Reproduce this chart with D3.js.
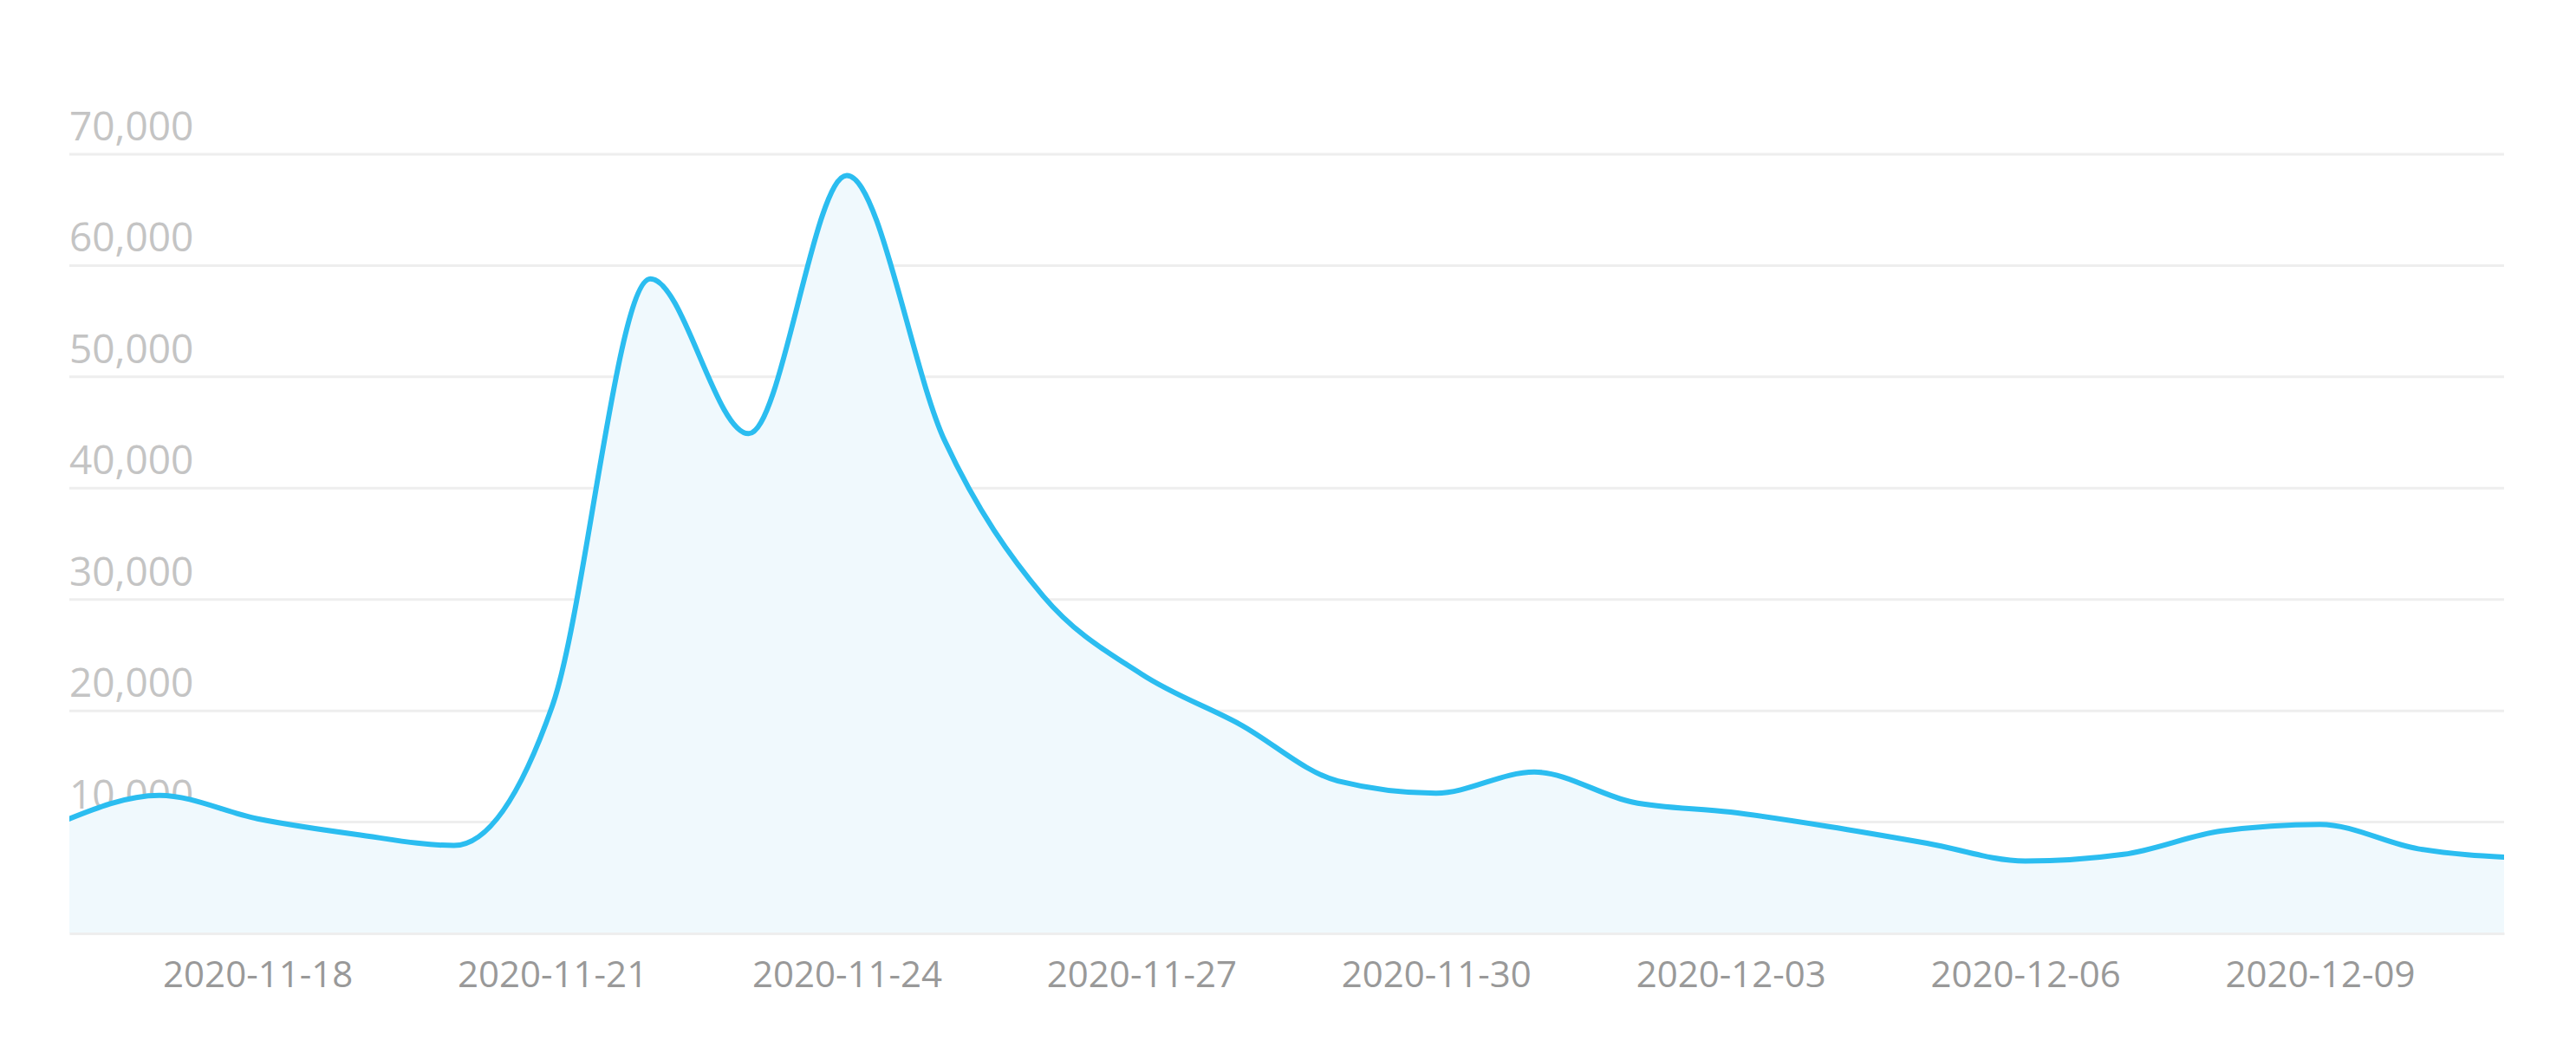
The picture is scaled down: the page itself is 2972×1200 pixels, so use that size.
<!DOCTYPE html>
<html>
<head>
<meta charset="utf-8">
<script src="https://cdn.jsdelivr.net/npm/d3@7"></script>
<style>
  body { margin: 0; background: #fff; }
  svg { display: block; }
</style>
</head>
<body>
<svg id="chart" width="2972" height="1200"></svg>
<script>
const dates = ["2020-11-16","2020-11-17","2020-11-18","2020-11-19","2020-11-20","2020-11-21",
  "2020-11-22","2020-11-23","2020-11-24","2020-11-25","2020-11-26","2020-11-27","2020-11-28",
  "2020-11-29","2020-11-30","2020-12-01","2020-12-02","2020-12-03","2020-12-04","2020-12-05",
  "2020-12-06","2020-12-07","2020-12-08","2020-12-09","2020-12-10","2020-12-11"];
const values = [10000, 12400, 10300, 8900, 7900, 20400, 58800, 44900, 68100, 44200, 30300,
  23300, 18800, 13700, 12600, 14500, 11800, 10900, 9600, 8100, 6500, 7100, 9200, 9800, 7600, 6800];
const yTicks = [10000, 20000, 30000, 40000, 50000, 60000, 70000];
const xTickLabels = ["2020-11-18","2020-11-21","2020-11-24","2020-11-27",
  "2020-11-30","2020-12-03","2020-12-06","2020-12-09"];

const parse = d3.timeParse("%Y-%m-%d");
const data = dates.map((d, i) => ({ date: parse(d), value: values[i] }));

const svg = d3.select("#chart");
const margin = { left: 80, right: 2889, top: 178, bottom: 1077 };

const x = d3.scaleTime()
  .domain([new Date(2020, 10, 16, 2), new Date(2020, 11, 10, 21)])
  .range([margin.left, margin.right]);
const y = d3.scaleLinear().domain([0, 70000]).range([margin.bottom, margin.top]);

svg.append("defs").append("clipPath").attr("id", "clip")
  .append("rect")
  .attr("x", margin.left).attr("y", 0)
  .attr("width", margin.right - margin.left).attr("height", margin.bottom);

// grid lines
svg.append("g")
  .selectAll("line")
  .data(yTicks)
  .join("line")
  .attr("x1", margin.left).attr("x2", margin.right)
  .attr("y1", y).attr("y2", y)
  .attr("stroke", "#eeeeee")
  .attr("stroke-width", 3);

// y labels
svg.append("g")
  .selectAll("text")
  .data(yTicks)
  .join("text")
  .attr("x", margin.left)
  .attr("y", (d) => y(d) - 16)
  .attr("fill", "#c4c4c4")
  .style("font-family", "'Open Sans', sans-serif")
  .style("font-size", "46px")
  .text(d3.format(","));

const area = d3.area()
  .x((d) => x(d.date))
  .y0(y(0))
  .y1((d) => y(d.value))
  .curve(d3.curveMonotoneX);

const line = d3.line()
  .x((d) => x(d.date))
  .y((d) => y(d.value))
  .curve(d3.curveMonotoneX);

const g = svg.append("g").attr("clip-path", "url(#clip)");
g.append("path").datum(data).attr("d", area).attr("fill", "#f0f9fd");
g.append("path").datum(data).attr("d", line)
  .attr("fill", "none")
  .attr("stroke", "#2bbdf0")
  .attr("stroke-width", 6)
  .attr("stroke-linejoin", "round");

// x axis
const xAxis = d3.axisBottom(x)
  .tickValues(xTickLabels.map(parse))
  .tickSize(0)
  .tickPadding(32)
  .tickFormat(d3.timeFormat("%Y-%m-%d"));

const ax = svg.append("g").attr("transform", `translate(0,${margin.bottom})`).call(xAxis);
ax.select("path").attr("stroke", "#eeeeee").attr("stroke-width", 3);
ax.selectAll("text")
  .attr("fill", "#999999")
  .style("font-family", "'Open Sans', sans-serif")
  .style("font-size", "42px");
</script>
</body>
</html>
